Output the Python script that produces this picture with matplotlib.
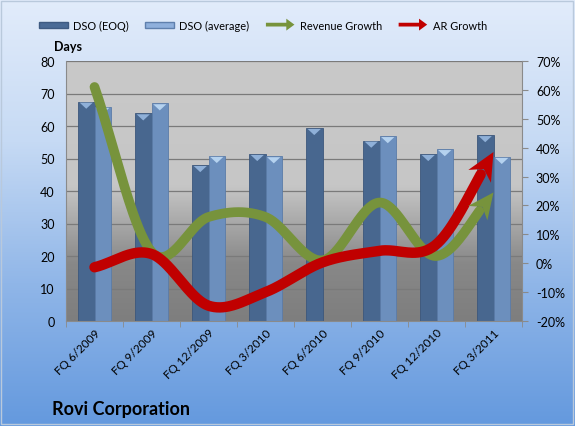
import numpy as np
import matplotlib
matplotlib.use("Agg")
import matplotlib.pyplot as plt
from matplotlib.patches import Rectangle, FancyArrow, Polygon
from matplotlib.legend_handler import HandlerPatch
from matplotlib.colors import LinearSegmentedColormap
from matplotlib.ticker import FuncFormatter, MultipleLocator

plt.rcParams['font.family'] = ['Lato', 'DejaVu Sans']

categories = ["FQ 6/2009", "FQ 9/2009", "FQ 12/2009", "FQ 3/2010",
              "FQ 6/2010", "FQ 9/2010", "FQ 12/2010", "FQ 3/2011"]
dso_eoq = [67.5, 63.9, 48.0, 51.4, 59.4, 55.5, 51.4, 57.2]
dso_avg = [65.9, 67.0, 50.8, 50.7, 0.0, 56.9, 52.9, 50.5]
revenue_growth = [0.61, 0.04, 0.16, 0.16, 0.01, 0.21, 0.025, 0.245]
ar_growth = [-0.014, 0.032, -0.147, -0.10, 0.003, 0.043, 0.066, 0.385]

W, H = 575, 427
fig = plt.figure(figsize=(W/100, H/100), dpi=100)

# figure background gradient
bg = fig.add_axes([0, 0, 1, 1], zorder=-10)
bg.set_axis_off()
cm_bg = LinearSegmentedColormap.from_list("bg", ["#e2ecfb", "#c6daf4", "#90b6e8", "#6499de"])
grad = np.linspace(0, 1, 256).reshape(-1, 1)
bg.imshow(grad, aspect='auto', cmap=cm_bg, extent=[0, 1, 0, 1], origin='upper')
bg.add_patch(Rectangle((0.002, 0.004), 0.994, 0.992, fill=False, ec="#b9c9dc", lw=1.0,
                       transform=bg.transAxes))
bg.set_xlim(0, 1); bg.set_ylim(0, 1)

ax = fig.add_axes([66/W, 1-322/H, 456/W, 260/H])
ax.set_xlim(-0.5, len(categories)-0.5)
ax.set_ylim(0, 80)

# plot area gradient
cm_pa = LinearSegmentedColormap.from_list("pa", [(0, "#c9c9c9"), (0.48, "#c6c6c6"),
                                                 (0.78, "#888888"), (1.0, "#7e7e7e")])
ax.imshow(grad, aspect='auto', cmap=cm_pa, extent=[-0.5, len(categories)-0.5, 0, 80],
          origin='upper', zorder=0)

for yv in range(10, 81, 10):
    ax.axhline(yv, color="#7a7a7a", lw=0.9, zorder=1)

x = np.arange(len(categories))
bw = 0.29
ax.bar(x - bw/2, dso_eoq, width=bw, color="#48678f", edgecolor="#3c577c", lw=0.6, zorder=2)
ax.bar(x + bw/2, dso_avg, width=bw, color="#6c8fbd", edgecolor="#5b7ca8", lw=0.6, zorder=2)
# highlight caps
for xi, v in zip(x - bw/2, dso_eoq):
    if v > 0:
        ax.add_patch(Polygon([[xi-bw/2*0.8, v-0.3], [xi+bw/2*0.8, v-0.3], [xi, v-2.2]],
                             closed=True, color="#8fb0d8", zorder=3, lw=0))
for xi, v in zip(x + bw/2, dso_avg):
    if v > 0:
        ax.add_patch(Polygon([[xi-bw/2*0.8, v-0.3], [xi+bw/2*0.8, v-0.3], [xi, v-2.2]],
                             closed=True, color="#b5d2ef", zorder=3, lw=0))

ax.set_xticks(x)
ax.set_xticklabels(categories, rotation=45, ha='right', rotation_mode='anchor', fontsize=8.5)
ax.tick_params(axis='x', length=0, pad=4)
ax.set_xticks(np.arange(-0.5, len(categories), 1), minor=True)
ax.tick_params(axis='x', which='minor', length=4, color="#8a8a8a", direction='out')
ax.yaxis.set_major_locator(MultipleLocator(10))
ax.tick_params(axis='y', length=0, labelsize=9, pad=8)
for s in ['top', 'right']:
    ax.spines[s].set_visible(False)
ax.spines['left'].set_color("#8a8a8a")
ax.spines['bottom'].set_color("#8a8a8a")

ax2 = ax.twinx()
ax2.set_ylim(-0.2, 0.7)
ax2.yaxis.set_major_locator(MultipleLocator(0.1))
ax2.yaxis.set_major_formatter(FuncFormatter(lambda v, p: f"{round(v*100):d}%"))
ax2.tick_params(axis='y', length=4, color="#8a8a8a", labelsize=9, pad=6)
for s in ['top', 'left', 'bottom']:
    ax2.spines[s].set_visible(False)
ax2.spines['right'].set_color("#8a8a8a")


def catmull(xs, ys, n=40):
    px = np.concatenate([[2*xs[0]-xs[1]], xs, [2*xs[-1]-xs[-2]]])
    py = np.concatenate([[2*ys[0]-ys[1]], ys, [2*ys[-1]-ys[-2]]])
    outx, outy = [], []
    for i in range(1, len(px)-2):
        t = np.linspace(0, 1, n, endpoint=False)
        for arr, out in ((px, outx), (py, outy)):
            p0, p1, p2, p3 = arr[i-1], arr[i], arr[i+1], arr[i+2]
            out.extend(0.5*((2*p1) + (-p0+p2)*t + (2*p0-5*p1+4*p2-p3)*t**2 +
                            (-p0+3*p1-3*p2+p3)*t**3))
    outx.append(xs[-1]); outy.append(ys[-1])
    return np.array(outx), np.array(outy)


def draw_arrow_line(vals, color, lw_pt, head_len_px, head_w_px):
    pts = ax2.transData.transform(np.column_stack([x, vals]))
    sx, sy = catmull(pts[:, 0], pts[:, 1])
    d = np.hypot(np.diff(sx), np.diff(sy))
    cum_from_end = np.concatenate([np.cumsum(d[::-1])[::-1], [0]])
    keep = cum_from_end >= head_len_px * 0.85
    lx, ly = sx[keep], sy[keep]
    inv = ax2.transData.inverted()
    data_line = inv.transform(np.column_stack([lx, ly]))
    ax2.plot(data_line[:, 0], data_line[:, 1], color=color, lw=lw_pt,
             solid_capstyle='round', solid_joinstyle='round', zorder=5)
    tip = np.array([sx[-1], sy[-1]])
    idx = np.argmin(np.abs(cum_from_end - head_len_px))
    base = np.array([sx[idx], sy[idx]])
    dirv = (tip - base) / np.linalg.norm(tip - base)
    perp = np.array([-dirv[1], dirv[0]])
    back = tip - dirv * head_len_px
    notch = tip - dirv * head_len_px * 0.7
    poly = np.array([tip, back + perp*head_w_px/2, notch, back - perp*head_w_px/2])
    ax2.add_patch(Polygon(inv.transform(poly), closed=True, color=color, lw=0, zorder=6))


draw_arrow_line(revenue_growth, "#77933c", 7.0, 26, 24)
draw_arrow_line(ar_growth, "#c00000", 7.5, 28, 26)


class ArrowHandler(HandlerPatch):
    def __init__(self, color):
        super().__init__()
        self.c = color

    def create_artists(self, legend, orig, xd, yd, w, h, fs, trans):
        a = FancyArrow(-xd, -yd + h/2, w, 0, width=h*0.6, head_width=h*1.9,
                       head_length=h*1.3, length_includes_head=True, color=self.c, lw=0)
        a.set_transform(trans)
        return [a]


h1 = Rectangle((0, 0), 1, 1, fc="#4a6b96", ec="#3e5b82")
h2 = Rectangle((0, 0), 1, 1, fc="#8fb0dc", ec="#5f80ad")
h3 = Rectangle((0, 0), 1, 1, fc="#77933c")
h4 = Rectangle((0, 0), 1, 1, fc="#c00000")
leg = fig.legend([h1, h2, h3, h4], ["DSO (EOQ)", "DSO (average)", "Revenue Growth", "AR Growth"],
                 handler_map={h3: ArrowHandler("#77933c"), h4: ArrowHandler("#c00000")},
                 loc='center', bbox_to_anchor=(263/W, 1-26/H), ncol=4, frameon=False,
                 fontsize=7.9, handlelength=2.6, handleheight=0.5, handletextpad=0.5,
                 columnspacing=1.5)

fig.text(54/W, 1-47/H, "Days", fontsize=9, fontweight='bold', ha='left', va='center')
fig.text(52/W, 1-410/H, "Rovi Corporation", fontsize=13, fontweight='bold', ha='left', va='center')

fig.savefig("out.png", dpi=100)
